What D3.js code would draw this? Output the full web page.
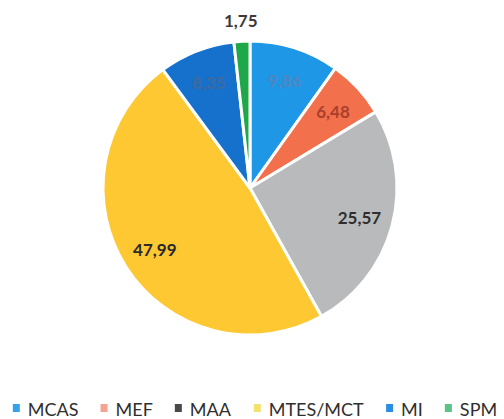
<!DOCTYPE html>
<html><head><meta charset="utf-8">
<script src="https://cdn.jsdelivr.net/npm/d3@7"></script>
<style>body{margin:0;background:#fff}svg{display:block}</style>
</head><body>
<svg id="c" width="504" height="419"></svg>
<script>
const categories = ["MCAS","MEF","MAA","MTES/MCT","MI","SPM"];
const values = [9.86, 6.48, 25.57, 47.99, 8.35, 1.75];
const labels = ["9,86","6,48","25,57","47,99","8,35","1,75"];
const sliceColors = ["#1e98e6","#f2704b","#b9babb","#fec832","#1571cb","#1fa84a"];
const labelColors = ["#4f86c0","#a8402c","#2e2e2e","#2a2a2a","#3f6aa0","#3a3a3a"];
const legendColors = ["#36a2ea","#f6a393","#4a4a4a","#f3e36a","#2b8ee4","#5cc387"];

const svg = d3.select("#c");
const cx = 250, cy = 188, r = 147;
const data = categories.map((c,i)=>({cat:c, value:values[i], label:labels[i], i}));
const pie = d3.pie().value(d=>d.value).sort(null);
const arcs = pie(data);
const arc = d3.arc().innerRadius(0).outerRadius(r);
const g = svg.append("g").attr("transform",`translate(${cx},${cy})`);
g.selectAll("path").data(arcs).join("path")
  .attr("d",arc).attr("fill",d=>sliceColors[d.data.i])
  .attr("stroke","#fff").attr("stroke-width",3).attr("stroke-linejoin","round");

const inArc = d3.arc().innerRadius(r*0.77).outerRadius(r*0.77);
const outArc = d3.arc().innerRadius(r*1.14).outerRadius(r*1.14);
g.selectAll("text.lbl").data(arcs).join("text").attr("class","lbl")
  .attr("transform",d=>{
    const p = (d.data.value < 3 ? outArc : inArc).centroid(d);
    return `translate(${p[0]},${p[1]})`;
  })
  .attr("text-anchor","middle").attr("dominant-baseline","central")
  .attr("font-family","Lato, 'Open Sans', sans-serif").attr("font-weight","bold")
  .attr("font-size",17).attr("fill",d=>labelColors[d.data.i])
  .text(d=>d.data.label);

// legend
const lg = svg.append("g");
const items = lg.selectAll("g").data(data).join("g");
items.append("rect").attr("width",7).attr("height",8).attr("y",-5)
  .attr("fill",d=>legendColors[d.i]);
items.append("text").attr("x",15).attr("y",0).attr("dominant-baseline","central")
  .attr("font-family","Lato, 'Open Sans', sans-serif").attr("font-size",18)
  .attr("fill","#2f2f2f").text(d=>d.cat);
let x = 0; const gap = 22;
items.each(function(){
  const w = this.getBBox().width;
  d3.select(this).attr("transform",`translate(${x},0)`);
  x += w + gap;
});
const total = x - gap;
lg.attr("transform",`translate(${(504-total)/2+3},409)`);
</script>
</body></html>
